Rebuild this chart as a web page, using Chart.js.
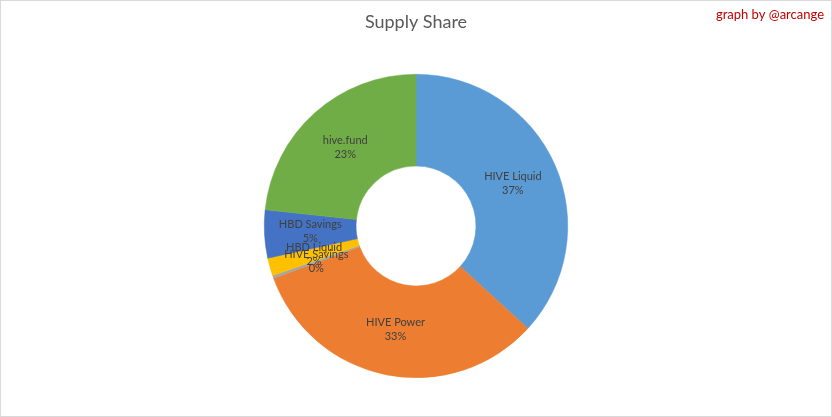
<!DOCTYPE html>
<html>
<head>
<meta charset="utf-8">
<script src="https://cdn.jsdelivr.net/npm/chart.js@4"></script>
<style>
html,body{margin:0;padding:0;background:#fff;}
canvas{display:block;}
</style>
</head>
<body>
<canvas id="c" width="832" height="417"></canvas>
<script>
const categories = ["HIVE Liquid", "HIVE Power", "HIVE Savings", "HBD Liquid", "HBD Savings", "hive.fund"];
const shares = [36.8, 32.6, 0.3, 1.9, 5.1, 23.3];
const colors = ["#5B9BD5", "#ED7D31", "#A5A5A5", "#FFC000", "#4472C4", "#70AD47"];
const titleText = "Supply Share";
const creditText = "graph by @arcange";

const FONT = "Lato, 'Open Sans', sans-serif";

const framePlugin = {
  id: 'frame',
  beforeDraw(chart) {
    const ctx = chart.ctx;
    ctx.save();
    ctx.fillStyle = '#ffffff';
    ctx.fillRect(0, 0, chart.width, chart.height);
    ctx.strokeStyle = '#d9d9d9';
    ctx.lineWidth = 1;
    ctx.strokeRect(0.5, 0.5, chart.width - 1, chart.height - 1);
    ctx.restore();
  },
  afterDraw(chart) {
    const ctx = chart.ctx;
    ctx.save();
    ctx.font = "13px " + FONT;
    ctx.fillStyle = '#C00000';
    ctx.textAlign = 'right';
    ctx.textBaseline = 'middle';
    ctx.fillText(creditText, 824, 15);
    ctx.restore();
  }
};

const labelPlugin = {
  id: 'sliceLabels',
  afterDatasetsDraw(chart) {
    const ctx = chart.ctx;
    const meta = chart.getDatasetMeta(0);
    const data = chart.data.datasets[0].data;
    const total = data.reduce((a, b) => a + b, 0);
    ctx.save();
    ctx.font = "11px " + FONT;
    ctx.fillStyle = '#404040';
    ctx.textAlign = 'center';
    ctx.textBaseline = 'middle';
    meta.data.forEach((arc, i) => {
      const p = arc.tooltipPosition();
      const pct = Math.round(data[i] / total * 100) + '%';
      ctx.fillText(chart.data.labels[i], p.x, p.y - 7);
      ctx.fillText(pct, p.x, p.y + 7);
    });
    ctx.restore();
  }
};

new Chart(document.getElementById('c'), {
  type: 'doughnut',
  data: {
    labels: categories,
    datasets: [{
      data: shares,
      backgroundColor: colors,
      borderWidth: 0.5,
      borderColor: colors
    }]
  },
  options: {
    responsive: false,
    devicePixelRatio: 1,
    animation: false,
    cutout: '39.5%',
    layout: { padding: { top: 0, bottom: 39, left: 0, right: 0 } },
    plugins: {
      legend: { display: false },
      tooltip: { enabled: false },
      title: {
        display: true,
        text: titleText,
        color: '#595959',
        font: { family: FONT, size: 18, weight: 'normal' },
        padding: { top: 11, bottom: 41.4 }
      }
    }
  },
  plugins: [framePlugin, labelPlugin]
});
</script>
</body>
</html>
